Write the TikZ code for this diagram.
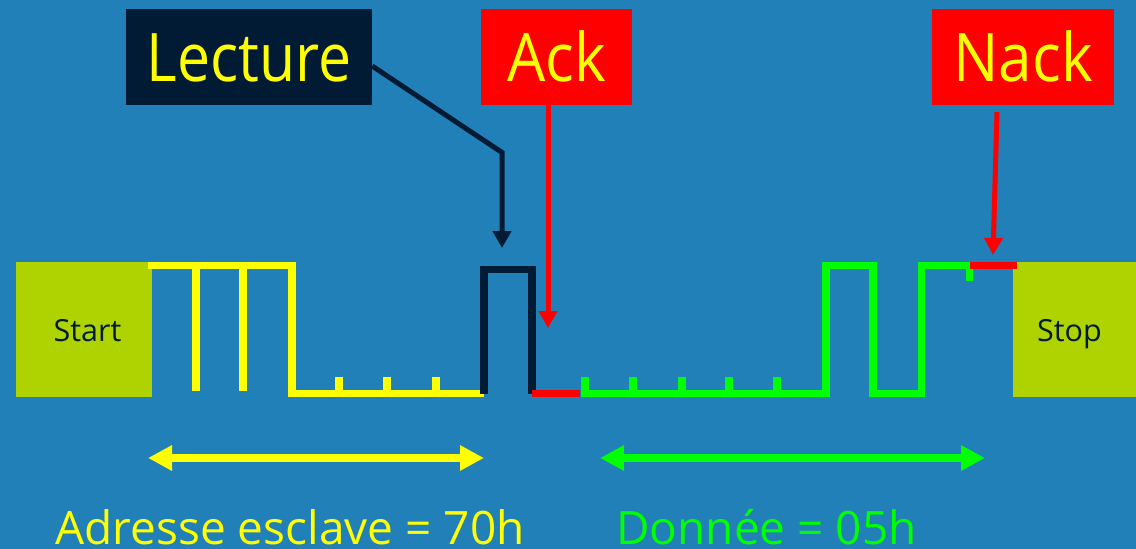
\documentclass[tikz,border=0pt]{standalone}
\usepackage{fontspec}
\setmainfont{Open Sans}
\usetikzlibrary{arrows.meta}

\definecolor{bgblue}{RGB}{33,128,183}
\definecolor{limegreen}{RGB}{174,211,0}
\definecolor{navy}{RGB}{0,27,51}
\definecolor{sigyellow}{RGB}{255,255,0}
\definecolor{siggreen}{RGB}{0,255,0}
\definecolor{sigred}{RGB}{255,0,0}

\tikzset{
  labelbox/.style={fill=#1, text=sigyellow, inner sep=0pt,
    minimum height=96pt, text height=48pt, text depth=0pt,
    font=\fontsize{67}{70}\selectfont},
  endbox/.style={fill=limegreen, text=navy, inner sep=0pt,
    minimum width=136pt, minimum height=135pt, text height=23pt, text depth=0pt,
    font=\fontsize{30.5}{34}\selectfont},
  wave/.style={line width=7.5pt, draw=#1},
  pointer/.style={line width=5pt, draw=#1, -{Triangle[length=17pt,width=18pt]}},
  span/.style={line width=8pt, draw=#1,
    {Triangle[length=24pt,width=24pt]}-{Triangle[length=24pt,width=24pt]}},
  caption/.style={anchor=base west, inner sep=0pt, text depth=0pt,
    font=\fontsize{46}{50}\selectfont, text=#1}
}

\begin{document}
\begin{tikzpicture}[x=1pt, y=-1pt]
  % canvas
  \fill[bgblue] (0,0) rectangle (1136,549);
  \useasboundingbox (0,0) rectangle (1136,549);

  % start and stop conditions
  \node[endbox] (start) at (84,329.5) {\hspace*{7pt}Start};
  \node[endbox, minimum width=123pt] (stop) at (1074.5,329.5) {Stop\hspace*{10pt}};

  % slave address bits (yellow)
  \draw[wave=sigyellow] (148,265.5) -- (292,265.5) -- (292,393.5) -- (484,393.5);
  \draw[wave=sigyellow] (196,265.5) -- (196,391);
  \draw[wave=sigyellow] (243,265.5) -- (243,391);
  \foreach \x in {339,387,436}
    \draw[wave=sigyellow] (\x,377) -- (\x,393.5);

  % read/write bit (navy)
  \draw[wave=navy] (484,393.5) -- (484,269.5) -- (532,269.5) -- (532,393.5);

  % acknowledge (red, low)
  \draw[wave=sigred] (532,393.5) -- (580,393.5);

  % data bits (green)
  \draw[wave=siggreen] (585,377) -- (585,393.5) -- (826,393.5) -- (826,265.5)
    -- (873,265.5) -- (873,393.5) -- (921.5,393.5) -- (921.5,265.5)
    -- (969.5,265.5) -- (969.5,281);
  \foreach \x in {633,682,729,777}
    \draw[wave=siggreen] (\x,377) -- (\x,393.5);

  % not-acknowledge (red, high)
  \draw[wave=sigred] (969.5,265.5) -- (1017,265.5);

  % labels
  \node[labelbox=navy, minimum width=246pt] (lecture) at (249,57) {\scalebox{0.88}[1]{Lecture}};
  \node[labelbox=sigred, minimum width=151pt] (ack) at (556.5,57) {\scalebox{0.9}[1]{Ack}};
  \node[labelbox=sigred, minimum width=182pt] (nack) at (1023,57) {\scalebox{0.9}[1]{Nack}};

  % pointers
  \coordinate (rwtip) at (502,248);
  \coordinate (acktip) at (548,328);
  \coordinate (nacktip) at (993,255);
  \draw[pointer=navy] ([yshift=-9pt]lecture.east) -- (502,152.5) -- (rwtip);
  \draw[pointer=sigred] ([xshift=-8.5pt]ack.south) -- (acktip);
  \draw[pointer=sigred] ([xshift=-26pt,yshift=-7pt]nack.south) -- (nacktip);

  % field spans
  \coordinate (a1) at (148,458);
  \coordinate (a2) at (484,458);
  \coordinate (d1) at (600,458);
  \coordinate (d2) at (985,458);
  \draw[span=sigyellow] (a1) -- (a2);
  \draw[span=siggreen] (d1) -- (d2);

  % captions
  \node[caption=sigyellow] (addr) at (55,544) {Adresse esclave = 70h};
  \node[caption=siggreen] (data) at (616,544) {Donnée = 05h};
\end{tikzpicture}
\end{document}
